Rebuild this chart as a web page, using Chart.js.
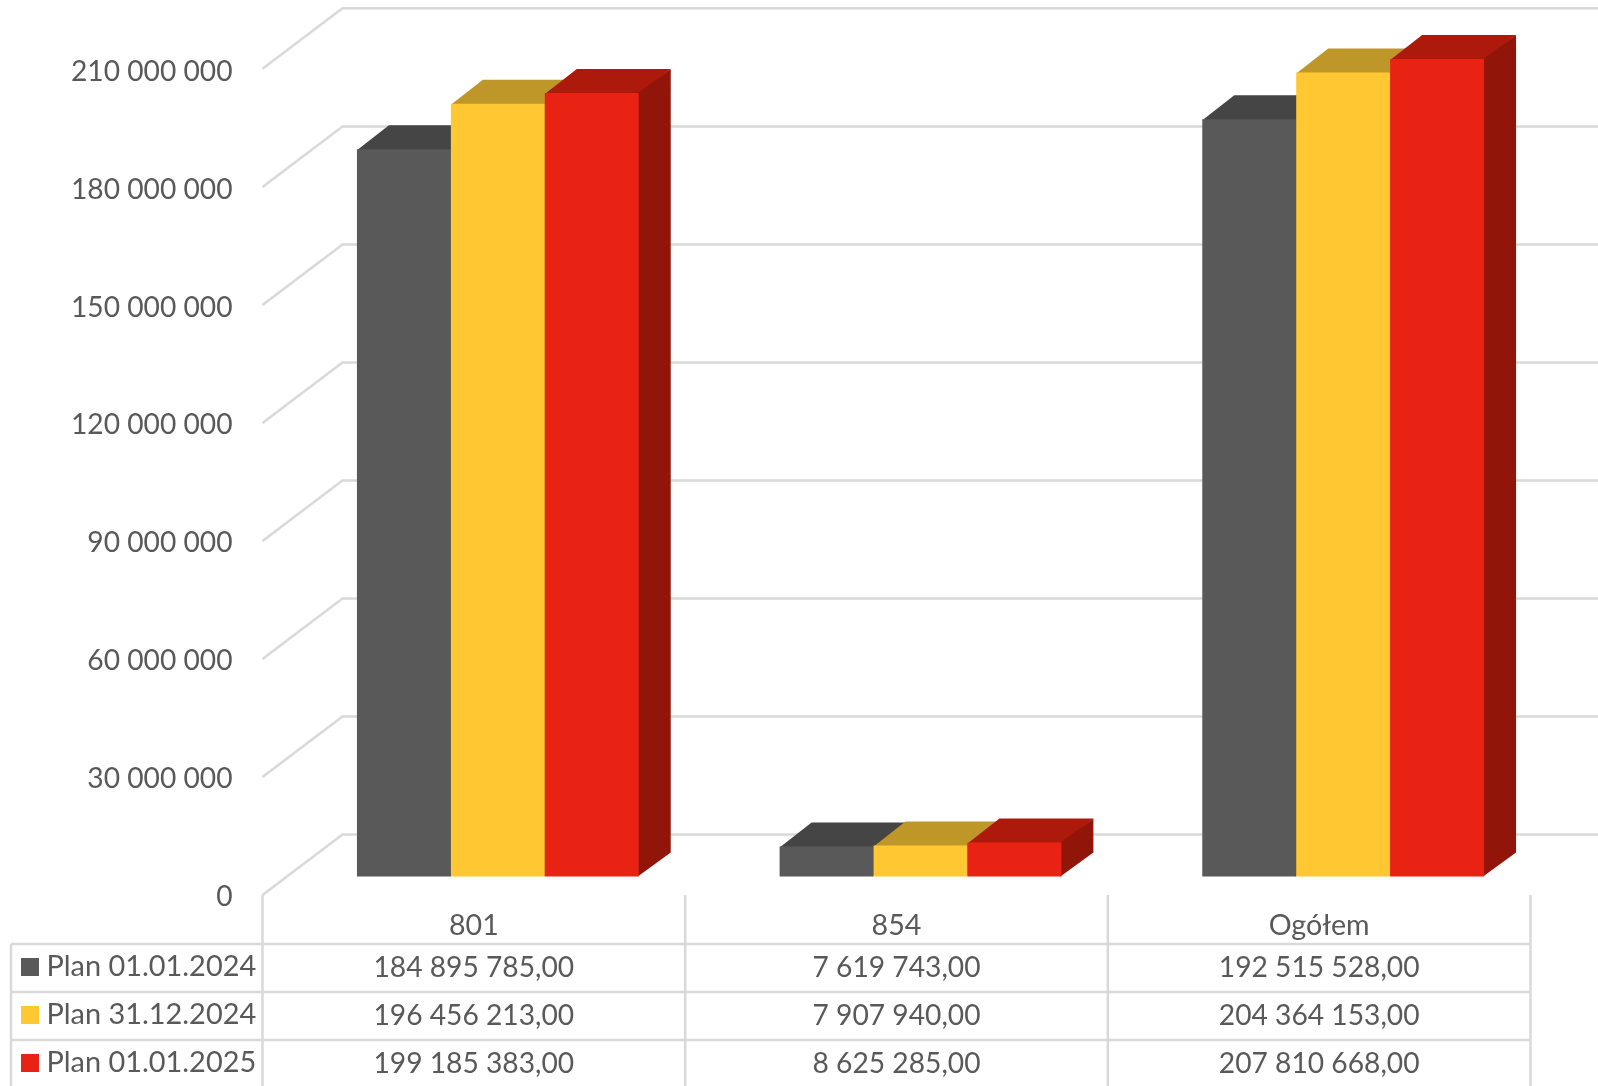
<!DOCTYPE html>
<html lang="pl">
<head>
<meta charset="UTF-8">
<title>Plan 801 / 854 / Ogółem</title>
<script src="https://cdn.jsdelivr.net/npm/chart.js"></script>
<style>
    html, body { margin: 0; padding: 0; background: #fff; }
    canvas { display: block; }
</style>
</head>
<body>
<canvas id="planChart" width="1598" height="1086"></canvas>
<script>
// Data
const categories = ['801', '854', 'Ogółem'];
const seriesNames = ['Plan 01.01.2024', 'Plan 31.12.2024', 'Plan 01.01.2025'];
const plan20240101 = [184895785, 7619743, 192515528];
const plan20241231 = [196456213, 7907940, 204364153];
const plan20250101 = [199185383, 8625285, 207810668];
const tickValues = [0, 30000000, 60000000, 90000000, 120000000, 150000000, 180000000, 210000000];

// Colours
const frontColors = ['#595959', '#FFC833', '#E82313'];
const topColors = ['#454545', '#BF9729', '#AD1A0C'];
const sideColors = ['#363636', '#9A7A20', '#92150A'];
const gridColor = '#D9D9D9';
const textColor = '#595959';
const fontFamily = 'Lato, sans-serif';

// 3D look: the wall sits behind the bars' plane, bars have their own depth
const WALL_DX = 80, WALL_DY = 60.5;
const WALL_BACK = 42; // back wall is this much above the bars' plane
const BAR_DX = 32, BAR_DY = 24;
const LABEL_SHIFT = 24; // table columns sit left of the bars' plane

function spaced(n) {
    return String(n).replace(/\B(?=(\d{3})+(?!\d))/g, ' ');
}

function line(ctx, pts) {
    ctx.beginPath();
    pts.forEach((p, i) => i ? ctx.lineTo(p[0], p[1]) : ctx.moveTo(p[0], p[1]));
    ctx.stroke();
}

function poly(ctx, pts, color) {
    ctx.fillStyle = color;
    ctx.beginPath();
    pts.forEach((p, i) => i ? ctx.lineTo(p[0], p[1]) : ctx.moveTo(p[0], p[1]));
    ctx.closePath();
    ctx.fill();
}

const bars3d = {
    id: 'bars3d',
    beforeDatasetsDraw(chart) {
        const ctx = chart.ctx;
        const yBars = chart.scales.yBars;
        const frontX = chart.chartArea.left - LABEL_SHIFT;

        // wall grid: diagonal from the front, then straight along the back
        ctx.save();
        ctx.strokeStyle = gridColor;
        ctx.lineWidth = 2.5;
        tickValues.forEach(v => {
            const back = yBars.getPixelForValue(v) - WALL_BACK;
            line(ctx, [[frontX, back + WALL_DY], [frontX + WALL_DX, back], [chart.width, back]]);
        });
        ctx.restore();

        // dark first, red last, so each bar covers the side of the previous one
        chart.data.datasets.forEach((ds, i) => {
            chart.getDatasetMeta(i).data.forEach(bar => {
                const l = bar.x - bar.width / 2, r = bar.x + bar.width / 2;
                // faces run 1px under the front so no seam shows through
                poly(ctx, [[l, bar.y + 1], [l + BAR_DX, bar.y - BAR_DY], [r + BAR_DX, bar.y - BAR_DY], [r, bar.y + 1]], topColors[i]);
                poly(ctx, [[r - 1, bar.y], [r + BAR_DX, bar.y - BAR_DY], [r + BAR_DX, bar.base - BAR_DY], [r - 1, bar.base]], sideColors[i]);
                bar.draw(ctx);
            });
        });
        return false;
    },
    afterDraw(chart) {
        const ctx = chart.ctx;
        const x = chart.scales.x;
        const left = 11, top = 895, bottom = 1086;
        const half = (x.getPixelForTick(1) - x.getPixelForTick(0)) / 2;
        const columns = categories.map((c, i) => x.getPixelForTick(i) - LABEL_SHIFT);
        const rowLines = [944, 992, 1040];
        const baselines = [977, 1025, 1073];
        const values = [plan20240101, plan20241231, plan20250101];

        ctx.save();
        ctx.strokeStyle = gridColor;
        ctx.lineWidth = 2.5;
        rowLines.forEach(py => line(ctx, [[left, py], [columns[2] + half, py]]));
        line(ctx, [[left, rowLines[0]], [left, bottom]]);
        line(ctx, [[columns[0] - half, top], [columns[0] - half, bottom]]);
        columns.forEach(cx => line(ctx, [[cx + half, top], [cx + half, bottom]]));

        ctx.fillStyle = textColor;
        ctx.textBaseline = 'alphabetic';
        ctx.textAlign = 'center';
        ctx.font = '28.6px ' + fontFamily;
        categories.forEach((c, i) => ctx.fillText(c, columns[i], 935));
        ctx.font = '28.2px ' + fontFamily;
        values.forEach((row, r) => {
            row.forEach((v, i) => ctx.fillText(spaced(v) + ',00', columns[i], baselines[r]));
        });
        ctx.textAlign = 'left';
        ctx.font = '28.9px ' + fontFamily;
        seriesNames.forEach((name, r) => {
            ctx.fillStyle = frontColors[r];
            ctx.fillRect(21, rowLines[r] + 14, 18, 18);
            ctx.fillStyle = textColor;
            ctx.fillText(name, 46.5, baselines[r] - 1);
        });
        ctx.restore();
    }
};

new Chart(document.getElementById('planChart'), {
    type: 'bar',
    data: {
        labels: categories,
        datasets: [plan20240101, plan20241231, plan20250101].map((data, i) => ({
            label: seriesNames[i],
            data: data,
            yAxisID: 'yBars',
            backgroundColor: frontColors[i],
            borderWidth: 0,
            categoryPercentage: 0.6667,
            barPercentage: 1
        }))
    },
    options: {
        responsive: false,
        animation: false,
        layout: { padding: { top: 8, right: 43.5, bottom: 189, left: 0 } },
        plugins: { legend: { display: false }, tooltip: { enabled: false } },
        scales: {
            x: { display: false },
            // tick labels live on the front plane
            y: {
                position: 'left',
                min: -100000,
                max: 226280000,
                grid: { display: false, drawTicks: false },
                border: { display: false },
                afterBuildTicks(scale) {
                    scale.ticks = tickValues.map(v => ({ value: v }));
                },
                afterFit(scale) {
                    scale.width = 286.5;
                    scale.paddingTop = 0;
                    scale.paddingBottom = 0;
                },
                ticks: {
                    padding: 54,
                    color: textColor,
                    font: { family: fontFamily, size: 28.2 },
                    callback: v => spaced(v)
                }
            },
            // bars stand a little further back, so the zero sits higher up
            yBars: {
                display: false,
                min: -5210000,
                max: 220770000
            }
        }
    },
    plugins: [bars3d]
});
</script>
</body>
</html>
